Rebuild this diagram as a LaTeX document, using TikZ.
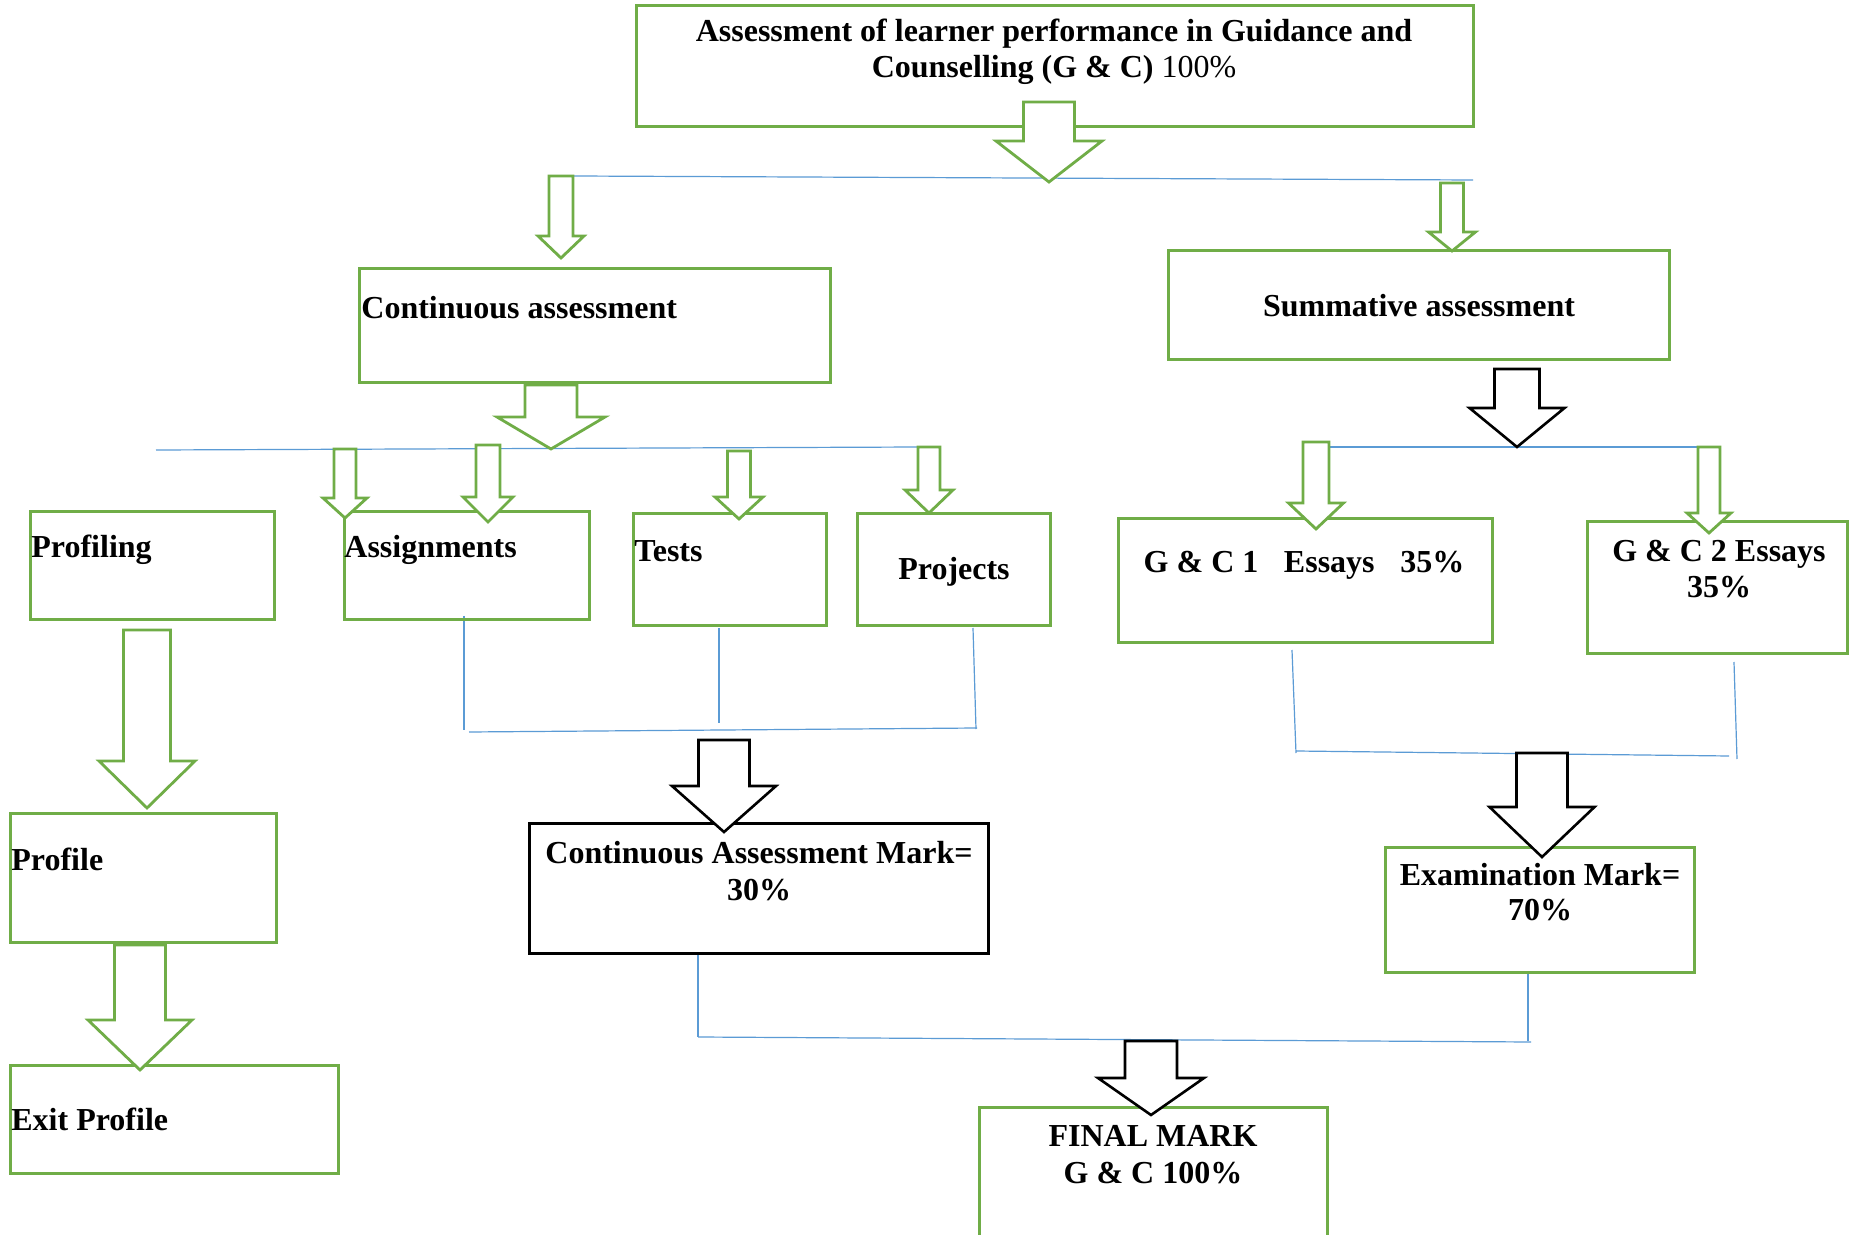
\documentclass[tikz,border=0pt]{standalone}
\usepackage{fontspec}
\setmainfont{Liberation Serif}
\definecolor{gr}{HTML}{70AD47}
\definecolor{bl}{HTML}{5B9BD5}
% box: name, x1, y1, x2, y2, style
\newcommand\bx[6]{\node[#6, minimum width={(#4-#2)*0.5pt}, minimum height={(#5-#3)*0.5pt}] (#1) at ({(#2+#4)/2},{(#3+#5)/2}) {};}
% block arrow: cx, ytop, yhead, ytip, half shaft, half head, style
\newcommand\barrow[7]{\draw[#7] ({#1-#5},#2) -- ({#1+#5},#2) -- ({#1+#5},#3) -- ({#1+#6},#3) -- (#1,#4) -- ({#1-#6},#3) -- ({#1-#5},#3) -- cycle;}
\begin{document}
\begin{tikzpicture}[x=0.5pt,y=-0.5pt,
  gbox/.style={draw=gr,line width=1.5pt,inner sep=0pt,outer sep=0pt},
  kbox/.style={draw=black,line width=1.5pt,inner sep=0pt,outer sep=0pt},
  garr/.style={draw=gr,line width=1.4pt,fill=white,line join=miter},
  karr/.style={draw=black,line width=1.3pt,fill=white,line join=miter},
  link/.style={draw=bl,line width=0.6pt},
  txt/.style={font=\fontsize{16}{18.3}\selectfont\bfseries,inner sep=0pt,text=black},
  lw/.style={txt,anchor=base west},
  lc/.style={txt,anchor=base}]
\clip (0,0) rectangle (1849,1235);
\fill[white] (0,0) rectangle (1849,1235);

% connector end points
\coordinate (l1a) at (574,176);  \coordinate (l1b) at (1473,180);
\coordinate (l2a) at (156,450);  \coordinate (l2b) at (920,447);
\coordinate (l3a) at (1316,447); \coordinate (l3b) at (1721,447);
\coordinate (asA) at (464,616);  \coordinate (asB) at (464,730);
\coordinate (teA) at (719,628);  \coordinate (teB) at (719,723);
\coordinate (prA) at (973,628);  \coordinate (prB) at (976,729);
\coordinate (caL) at (469,732);  \coordinate (caR) at (977,728);
\coordinate (g1A) at (1292,650); \coordinate (g1B) at (1296,753);
\coordinate (g2A) at (1734,662); \coordinate (g2B) at (1737,759);
\coordinate (smL) at (1296,751); \coordinate (smR) at (1729,756);
\coordinate (cdA) at (698,952);  \coordinate (cdB) at (698,1037);
\coordinate (edA) at (1528,974); \coordinate (edB) at (1528,1041);
\coordinate (btL) at (698,1037); \coordinate (btR) at (1531,1042);

% blue connector lines
\draw[link] (l1a) -- (l1b);
\draw[link] (l2a) -- (l2b);
\draw[link] (l3a) -- (l3b);
\draw[link] (asA) -- (asB);
\draw[link] (teA) -- (teB);
\draw[link] (prA) -- (prB);
\draw[link] (caL) -- (caR);
\draw[link] (g1A) -- (g1B);
\draw[link] (g2A) -- (g2B);
\draw[link] (smL) -- (smR);
\draw[link] (cdA) -- (cdB);
\draw[link] (edA) -- (edB);
\draw[link] (btL) -- (btR);

% boxes
\bx{top}{636}{6}{1473}{127}{gbox}
\bx{cont}{359}{269}{830}{383}{gbox}
\bx{summ}{1168}{251}{1669}{360}{gbox}
\bx{prof}{30}{512}{274}{620}{gbox}
\bx{assign}{344}{512}{589}{620}{gbox}
\bx{tests}{633}{514}{826}{626}{gbox}
\bx{proj}{857}{514}{1050}{626}{gbox}
\bx{gcone}{1118}{519}{1492}{643}{gbox}
\bx{gctwo}{1587}{522}{1847}{654}{gbox}
\bx{profile}{10}{813}{276}{942}{gbox}
\bx{exit}{10}{1065}{338}{1173}{gbox}
\bx{camark}{529}{823}{988}{953}{kbox}
\bx{exam}{1385}{847}{1694}{972}{gbox}
\bx{final}{979}{1107}{1327}{1262}{gbox}

% block arrows
\barrow{1049}{102}{141}{182}{25.5}{53}{garr}
\barrow{561}{176}{236}{258}{12}{23}{garr}
\barrow{1452}{183}{232}{251}{11.5}{23.5}{garr}
\barrow{551}{385}{417}{449}{26}{54}{garr}
\barrow{345}{449}{498}{518}{11}{22}{garr}
\barrow{488}{445}{497}{522}{12}{25}{garr}
\barrow{739}{451}{497}{519}{11.5}{24}{garr}
\barrow{929}{447}{490}{513}{11}{24}{garr}
\barrow{1517}{369}{408}{447}{22.5}{47.5}{karr}
\barrow{1316}{442}{503}{529}{13}{27.5}{garr}
\barrow{1709}{447}{513}{533}{11}{22}{garr}
\barrow{147}{630}{761}{808}{23.5}{48}{garr}
\barrow{140}{945}{1020}{1070}{25.5}{52}{garr}
\barrow{724}{740}{786}{832}{25.5}{52}{karr}
\barrow{1542}{753}{807}{857}{25.5}{52.5}{karr}
\barrow{1151}{1041}{1078}{1115}{26}{53}{karr}

% texts
\node[lc] (t1) at (1054,42) {Assessment of learner performance in Guidance and};
\node[lc] (t2) at (1054,78) {Counselling (G \& C) {\mdseries 100\%}};
\node[lw] (tc) at (361,319) {Continuous assessment};
\node[lc] (ts) at (1419,317) {Summative assessment};
\node[lw] (tp) at (31,558) {Profiling};
\node[lw] (ta) at (344,558) {Assignments};
\node[lw] (tt) at (634,562) {Tests};
\node[lc] (tj) at (954,580) {Projects};
\node[lc] (tg1) at (1304,573) {G \& C 1\hspace{0.8em}Essays\hspace{0.8em}35\%};
\node[lc] (tg2a) at (1719,562) {G \& C 2 Essays};
\node[lc] (tg2b) at (1719,598) {35\%};
\node[lw] (tpr) at (11,870) {Profile};
\node[lw] (tex) at (11,1130) {Exit Profile};
\node[lc] (tca) at (759,863) {Continuous Assessment Mark=};
\node[lc] (tcb) at (759,900) {30\%};
\node[lc] (txa) at (1540,885) {Examination Mark=};
\node[lc] (txb) at (1540,920) {70\%};
\node[lc] (tfa) at (1153,1146) {FINAL MARK};
\node[lc] (tfb) at (1153,1183) {G \& C 100\%};
\end{tikzpicture}
\end{document}
